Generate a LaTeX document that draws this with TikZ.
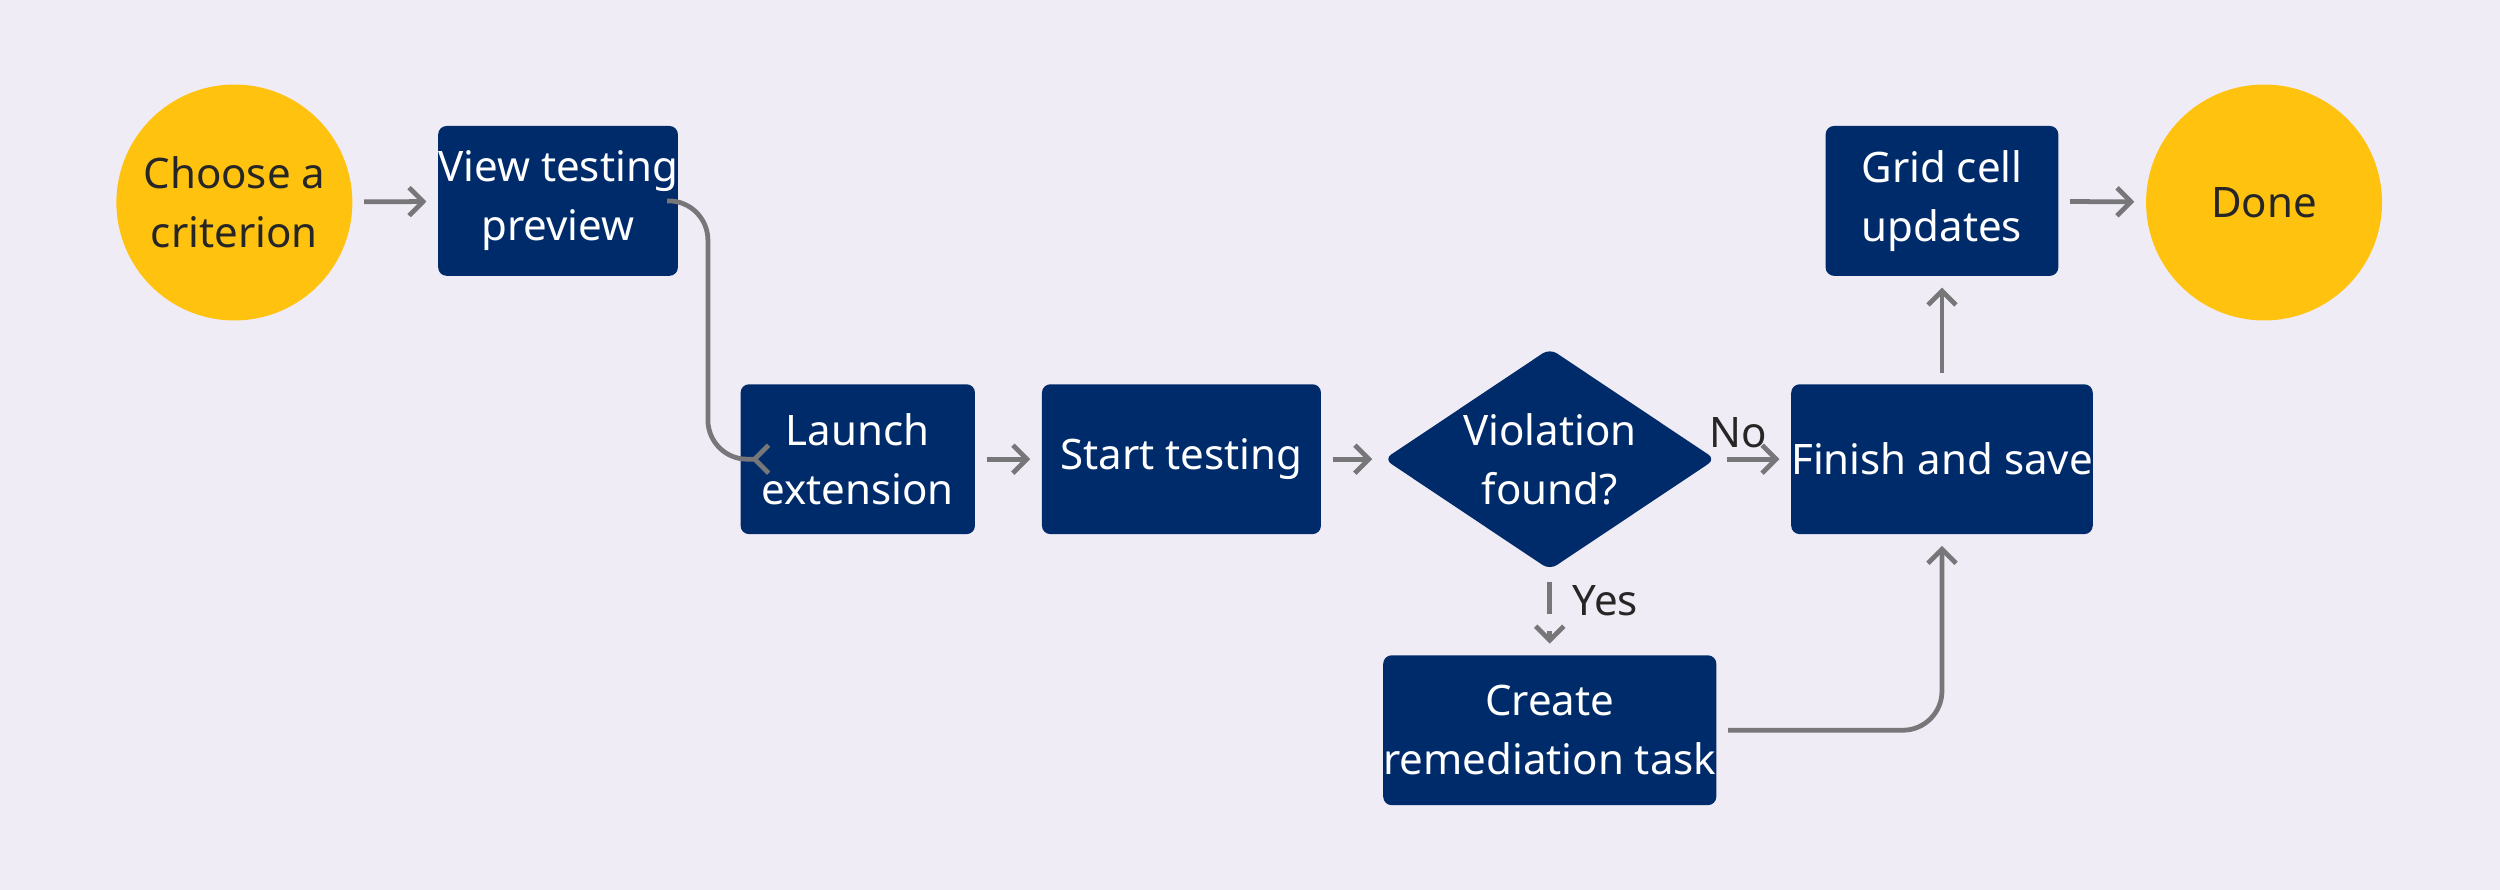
\documentclass[tikz,border=0pt]{standalone}
\usepackage{fontspec}
\setmainfont{Noto Sans}
\usetikzlibrary{arrows.meta,shapes.geometric}
\definecolor{bgcol}{HTML}{F0ECF6}
\definecolor{navy}{HTML}{002B6B}
\definecolor{gold}{HTML}{FFC20E}
\definecolor{linecol}{HTML}{77777A}
\tikzset{
  task/.style={fill=navy, text=white, rounded corners=3pt, align=center,
               minimum height=1.88cm, inner sep=0pt, font=\fontsize{15}{21}\selectfont},
  term/.style={circle, fill=gold, text=black!85, minimum size=2.96cm, inner sep=0pt,
               align=center, font=\fontsize{15}{21}\selectfont},
  choice/.style={diamond, fill=navy, text=white, minimum width=4.16cm, minimum height=2.78cm,
               inner sep=0pt, aspect=1.5, rounded corners=3pt, align=center, font=\fontsize{15}{21}\selectfont},
  flow/.style={draw=linecol, line width=1.7pt, -{Straight Barb[length=5pt,width=10pt]},
               rounded corners=14pt, shorten <=4pt, shorten >=4pt},
  lbl/.style={text=black!85, font=\fontsize{15}{18}\selectfont}
}
\begin{document}
\begin{tikzpicture}[x=0.02cm,y=-0.02cm]
\fill[bgcol] (0,0) rectangle (1568,558);
%
% Nodes
\node[term] (choose) at (147,127) {Choose a\\criterion};
\node[task, minimum width=2.96cm] (view) at (350,126) {View testing\\preview};
\node[task, minimum width=2.94cm] (launch) at (538,288) {Launch\\extension};
\node[task, minimum width=3.5cm] (start) at (741,288) {Start testing};
\node[choice] (viol) at (972,288) {Violation\\found?};
\node[task, minimum width=3.48cm] (finish) at (1218,288) {Finish and save};
\node[task, minimum width=2.92cm] (grid) at (1218,126) {Grid cell\\updates};
\node[term] (done) at (1420,127) {Done};
\node[task, minimum width=3.48cm] (create) at (972,458) {Create\\remediation task};
%
% Connectors
\draw[flow] (choose) -- (view);
\draw[flow] (view.east) -- (444,126) -- (444,288) -- (launch.west);
\draw[flow] (launch) -- (start);
\draw[flow] (start) -- (viol);
\draw[flow] (viol) -- node[lbl, above, pos=0.3] {No} (finish);
\draw[flow, dash pattern=on 0.4cm off 0.22cm] (viol.south) -- (create.north);
\node[lbl, anchor=west] (yes) at (980,377) {Yes};
\draw[flow] (create.east) -- (1218,458) -- (finish.south);
\draw[flow] (finish) -- (grid);
\draw[flow] (grid) -- (done);
\end{tikzpicture}
\end{document}
